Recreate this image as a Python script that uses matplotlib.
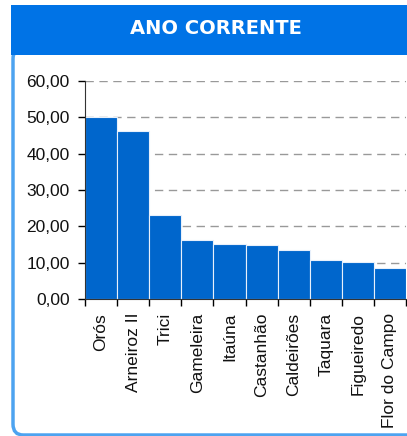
import matplotlib
matplotlib.use("Agg")
import matplotlib.pyplot as plt
from matplotlib.patches import Rectangle, FancyBboxPatch
from matplotlib.ticker import FuncFormatter
import numpy as np

# reservatórios e valores (%)
reservatorios = ["Orós", "Arneiroz II", "Trici", "Gameleira", "Itaúna",
                 "Castanhão", "Caldeirões", "Taquara", "Figueiredo", "Flor do Campo"]
valores = [50.0, 46.3, 23.0, 16.2, 15.1, 15.0, 13.4, 10.8, 10.3, 8.6]
yticks = [0, 10, 20, 30, 40, 50, 60]
titulo = "ANO CORRENTE"

W, H = 407, 436
fig = plt.figure(figsize=(W / 100, H / 100), dpi=100)

# card com borda azul clara a esquerda
card = FancyBboxPatch((13 / W, 1 / H), 420 / W, 387 / H,
                      boxstyle="round,pad=0,rounding_size=0.025",
                      transform=fig.transFigure, facecolor="white",
                      edgecolor="#4da3f0", linewidth=2.5, zorder=0)
fig.patches.append(card)

# faixa do titulo
header = Rectangle((11 / W, (H - 55) / H), 400 / W, 50 / H,
                   transform=fig.transFigure, facecolor="#0073e6",
                   edgecolor="none", zorder=1)
fig.patches.append(header)
fig.text(216 / W, (H - 29) / H, titulo, color="white", ha="center", va="center",
         fontsize=14, fontweight="bold", family="DejaVu Sans")

ax = fig.add_axes([85 / W, (H - 299) / H, 321 / W, 218 / H])
ax.set_zorder(5)
ax.patch.set_alpha(0)
x = np.arange(len(valores))
ax.bar(x, valores, width=1.0, color="#0066cc", edgecolor="#e8f0fb",
       linewidth=0.8, zorder=2)

ax.set_xlim(-0.5, len(valores) - 0.5)
ax.set_ylim(0, 60)
ax.set_yticks(yticks)
ax.yaxis.set_major_formatter(FuncFormatter(lambda v, p: f"{v:.2f}".replace(".", ",")))
ax.yaxis.grid(True, color="#999999", linestyle=(0, (6, 4)), linewidth=1)
ax.set_axisbelow(True)

ax.set_xticks(x)
ax.set_xticklabels(reservatorios, rotation=90)
ax.set_xticks(np.arange(len(valores) + 1) - 0.5, minor=True)
ax.tick_params(axis="x", which="major", length=0, pad=10)
ax.tick_params(axis="x", which="minor", length=5, width=1)
ax.tick_params(axis="y", length=5, width=1, pad=6)
for lbl in ax.get_xticklabels() + ax.get_yticklabels():
    lbl.set_family("Liberation Sans")
    lbl.set_fontsize(12.5)
    lbl.set_color("#111111")

for s in ["top", "right"]:
    ax.spines[s].set_visible(False)
ax.spines["left"].set_color("#333333")
ax.spines["bottom"].set_color("#333333")

fig.savefig("out.png", dpi=100)
